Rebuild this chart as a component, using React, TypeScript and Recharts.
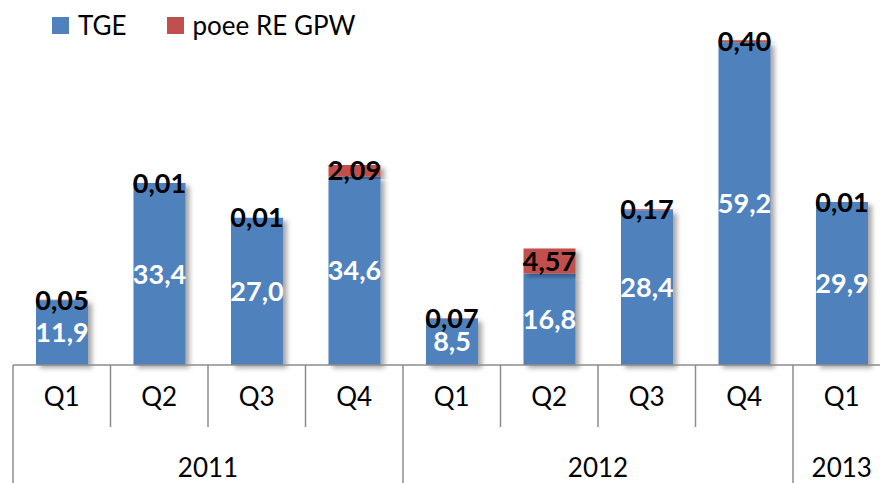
import React from 'react';
import { BarChart, Bar, XAxis, YAxis, LabelList } from 'recharts';

const quarters = ['Q1', 'Q2', 'Q3', 'Q4', 'Q1', 'Q2', 'Q3', 'Q4', 'Q1'];
const years = ['2011', '2011', '2011', '2011', '2012', '2012', '2012', '2012', '2013'];
const tgeValues = [11.9, 33.4, 27.0, 34.6, 8.5, 16.8, 28.4, 59.2, 29.9];
const gpwValues = [0.05, 0.01, 0.01, 2.09, 0.07, 4.57, 0.17, 0.4, 0.01];
const seriesNames = ['TGE', 'poee RE GPW'];

const data = quarters.map((q, i) => ({
  key: `${years[i]}-${q}`,
  q,
  year: years[i],
  tge: tgeValues[i],
  gpw: gpwValues[i],
}));

const BLUE = '#4f81bd';
const RED = '#c0504d';
const GRID = '#8c8c8c';
const FONT = 'Lato, "Open Sans", sans-serif';

const CHART_W = 900;
const CHART_H = 483;
const M_LEFT = 13;
const M_RIGHT = 9.5;
const BAND = (CHART_W - M_LEFT - M_RIGHT) / quarters.length;

const fmt1 = (v: number) => v.toFixed(1).replace('.', ',');
const fmt2 = (v: number) => v.toFixed(2).replace('.', ',');

const AxisTick = (props: any) => {
  const { x, y, payload } = props;
  const i = payload.index;
  const firstOfYear = i === 0 || years[i] !== years[i - 1];
  let count = 0;
  if (firstOfYear) {
    for (let j = i; j < years.length && years[j] === years[i]; j++) count++;
  }
  const left = x - BAND / 2;
  return (
    <g>
      <line x1={left} y1={y} x2={left} y2={firstOfYear ? y + 125 : y + 62} stroke={GRID} strokeWidth={1.5} />
      <text x={x} y={y + 41} textAnchor="middle" fontSize={26} fill="#000" fontFamily={FONT}>
        {quarters[i]}
      </text>
      {firstOfYear && (
        <text x={left + (count * BAND) / 2} y={y + 112} textAnchor="middle" fontSize={26} fill="#000" fontFamily={FONT}>
          {years[i]}
        </text>
      )}
    </g>
  );
};

export default function App() {
  const legend = [
    { name: seriesNames[0], color: BLUE },
    { name: seriesNames[1], color: RED },
  ];
  return (
    <div style={{ position: 'absolute', left: 0, top: 0, width: 880, height: 483, overflow: 'hidden', background: '#fff' }}>
      <div
        style={{
          position: 'absolute',
          left: 52,
          top: 10,
          display: 'flex',
          alignItems: 'center',
          fontFamily: FONT,
          fontSize: 26,
          zIndex: 2,
        }}
      >
        {legend.map((it) => (
          <div key={it.name} style={{ display: 'flex', alignItems: 'center', marginRight: 40 }}>
            <span style={{ width: 17, height: 17, background: it.color, display: 'inline-block', marginRight: 9 }} />
            <span style={{ color: '#000', lineHeight: '30px' }}>{it.name}</span>
          </div>
        ))}
      </div>
      <BarChart
        width={CHART_W}
        height={CHART_H}
        data={data}
        margin={{ top: 38, right: M_RIGHT, bottom: 0, left: M_LEFT }}
        barCategoryGap={23}
      >
        <defs>
          <filter id="shadow" x="-20%" y="-20%" width="160%" height="140%">
            <feDropShadow dx={4} dy={3} stdDeviation={2.5} floodColor="#000" floodOpacity={0.35} />
          </filter>
        </defs>
        <YAxis hide domain={[0, 60]} />
        <XAxis
          dataKey="key"
          height={118}
          axisLine={{ stroke: GRID, strokeWidth: 1.5 }}
          tickLine={false}
          tickSize={0}
          tickMargin={0}
          interval={0}
          tick={<AxisTick />}
        />
        <Bar dataKey="tge" name={seriesNames[0]} stackId="a" fill={BLUE} isAnimationActive={false} filter="url(#shadow)">
          <LabelList
            dataKey="tge"
            position="center"
            formatter={(v: any) => fmt1(Number(v))}
            fill="#fff"
            fontSize={27}
            fontWeight={700}
            fontFamily={FONT}
          />
        </Bar>
        <Bar dataKey="gpw" name={seriesNames[1]} stackId="a" fill={RED} isAnimationActive={false} filter="url(#shadow)">
          <LabelList
            dataKey="gpw"
            position="center"
            formatter={(v: any) => fmt2(Number(v))}
            fill="#000"
            fontSize={27}
            fontWeight={700}
            fontFamily={FONT}
          />
        </Bar>
      </BarChart>
    </div>
  );
}
